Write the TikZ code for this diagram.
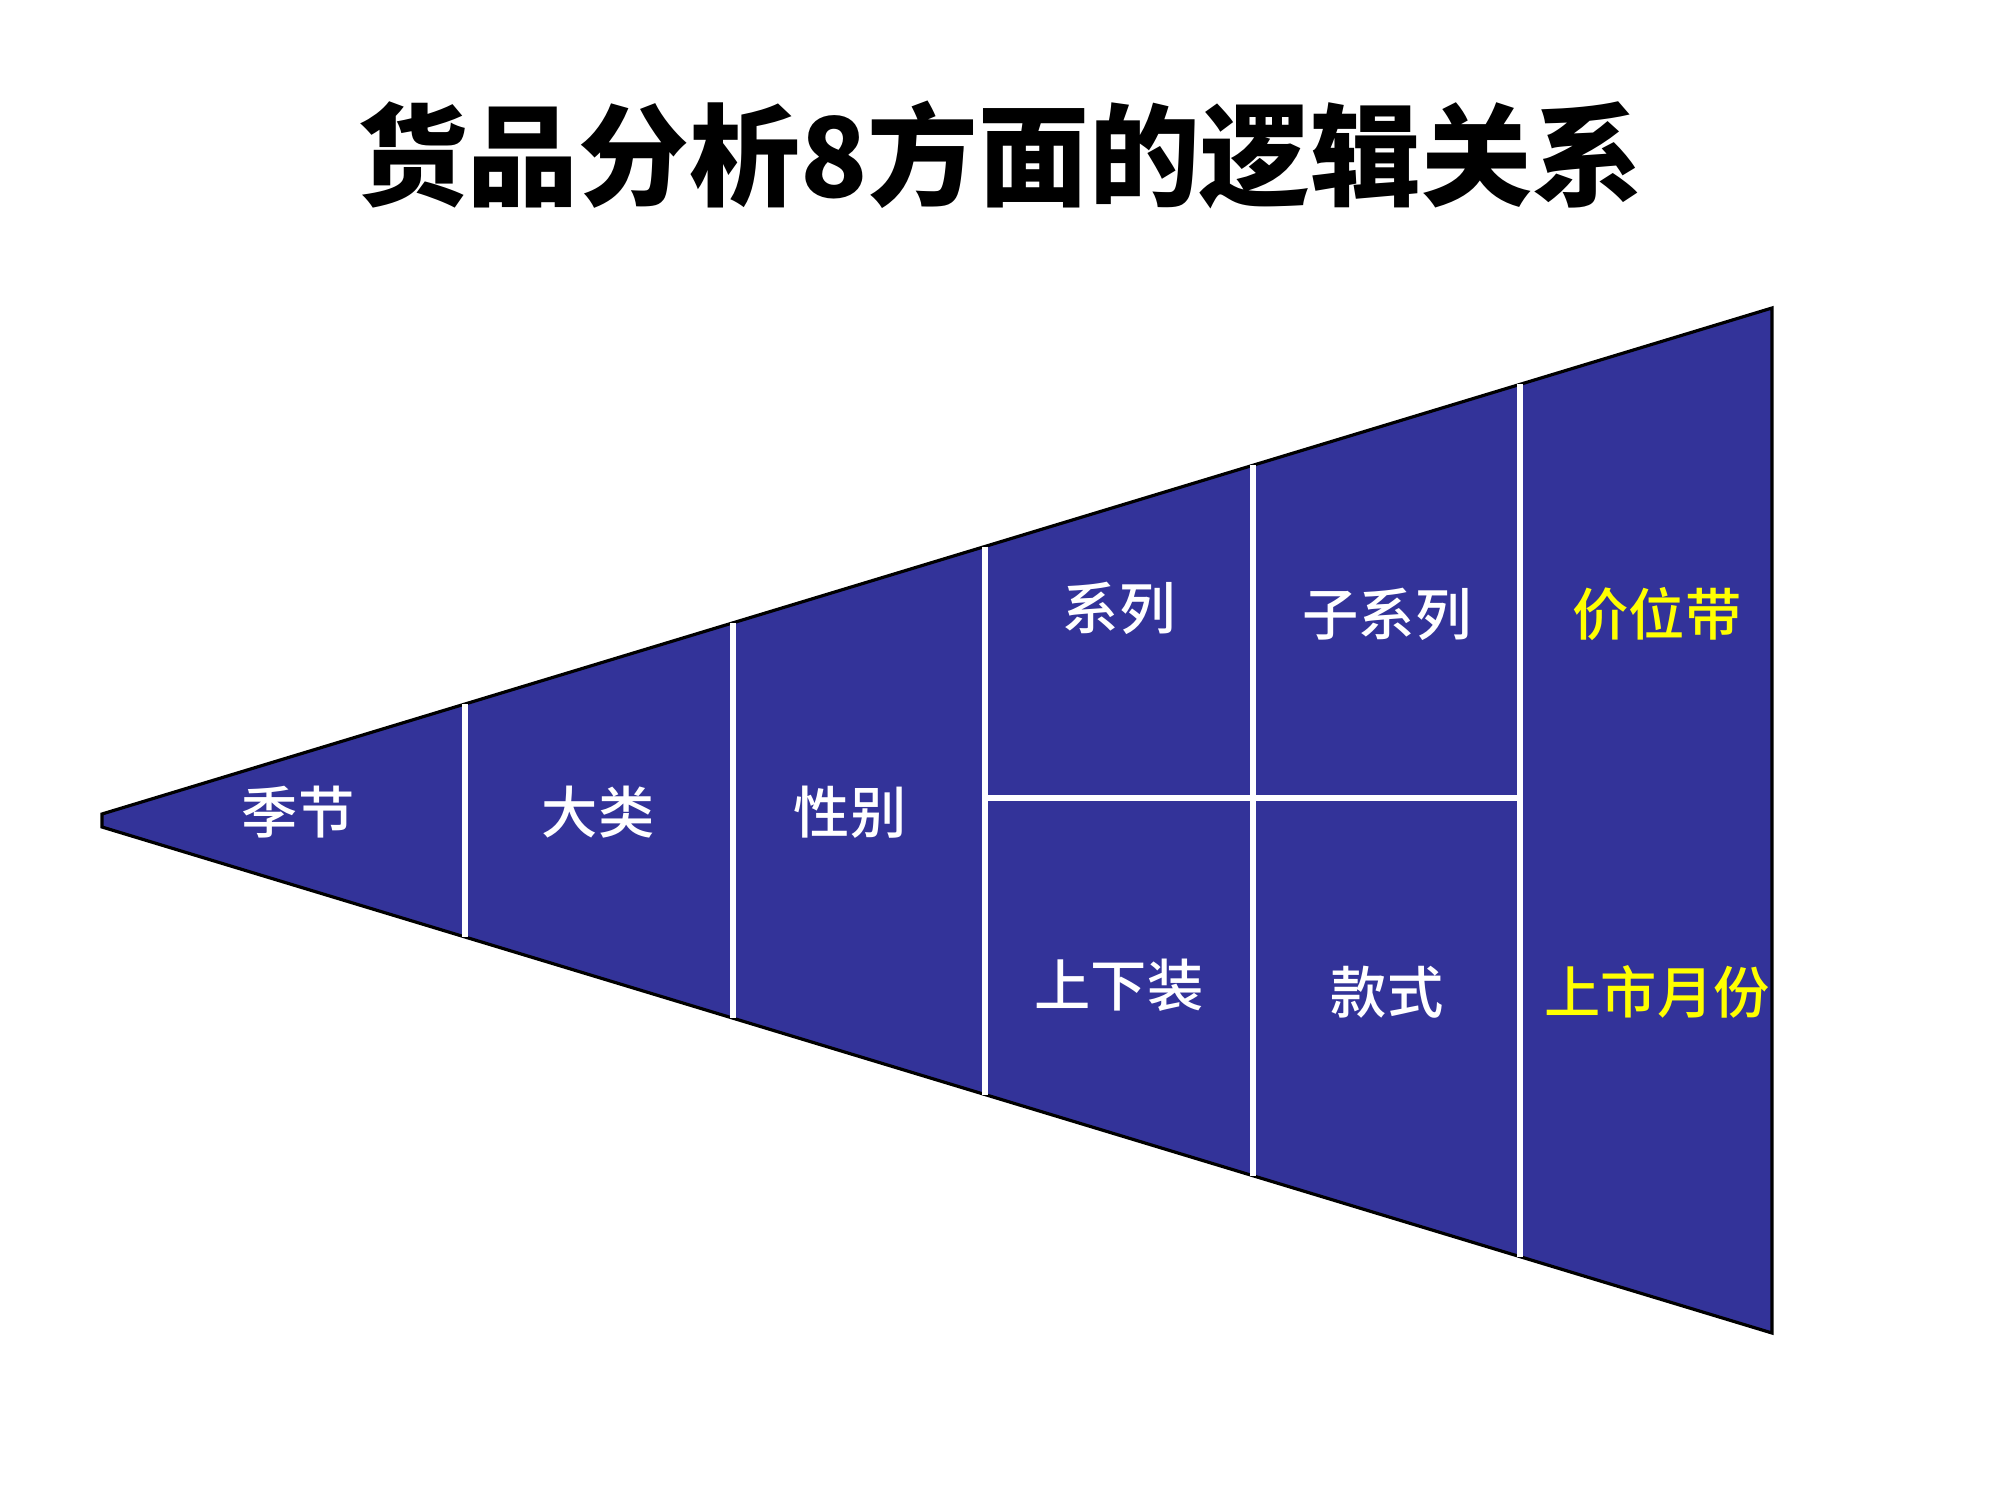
\documentclass[tikz,border=0pt]{standalone}
\usepackage{fontspec}
\newfontfamily\cjk{Noto Sans CJK SC}
\newfontfamily\cjkm{Noto Sans CJK SC Medium}
\definecolor{navy}{HTML}{333399}
\definecolor{ylw}{HTML}{FFFF00}
\begin{document}
\begin{tikzpicture}[x=0.01cm,y=-0.01cm,
  lbl/.style={font=\cjkm\fontsize{16}{16}\selectfont, text=white, inner sep=0pt},
  ylbl/.style={lbl, text=ylw},
  titlestyle/.style={font=\cjk\bfseries\fontsize{31.5}{31.5}\selectfont, text=black, inner sep=0pt},
  divider/.style={draw=white, line width=1.7pt},
  funnel/.style={fill=navy, draw=black, line width=0.9pt, line join=miter}]
\useasboundingbox (0,0) rectangle (2000,1500);
% outline corners
\coordinate (tl) at (102,814);
\coordinate (bl) at (102,827);
\coordinate (tr) at (1772,308);
\coordinate (br) at (1772,1333);
\draw[funnel] (tl) -- (tr) -- (br) -- (bl) -- cycle;
% divider end points
\coordinate (d1t) at (465,704.0);   \coordinate (d1b) at (465,937.0);
\coordinate (d2t) at (733,622.8);   \coordinate (d2b) at (733,1018.2);
\coordinate (d3t) at (985,546.5);   \coordinate (d3b) at (985,1094.5);
\coordinate (d4t) at (1253,465.3);  \coordinate (d4b) at (1253,1175.7);
\coordinate (d5t) at (1520,384.4);  \coordinate (d5b) at (1520,1256.6);
\coordinate (hl) at (985,798);      \coordinate (hr) at (1520,798);
\draw[divider] (d1t) -- (d1b);
\draw[divider] (d2t) -- (d2b);
\draw[divider] (d3t) -- (d3b);
\draw[divider] (d4t) -- (d4b);
\draw[divider] (d5t) -- (d5b);
\draw[divider] (hl) -- (hr);
% labels
\node[titlestyle] (title) at (1000,155) {货品分析8方面的逻辑关系};
\node[lbl] (jijie) at (298,812) {季节};
\node[lbl] (dalei) at (598,812) {大类};
\node[lbl] (xingbie) at (850,812) {性别};
\node[lbl] (xilie) at (1119,608) {系列};
\node[lbl] (zixilie) at (1387,614) {子系列};
\node[ylbl] (jiawei) at (1657,614) {价位带};
\node[lbl] (shangxia) at (1119,985) {上下装};
\node[lbl] (kuanshi) at (1387,992) {款式};
\node[ylbl] (shangshi) at (1657,992) {上市月份};
\end{tikzpicture}
\end{document}
